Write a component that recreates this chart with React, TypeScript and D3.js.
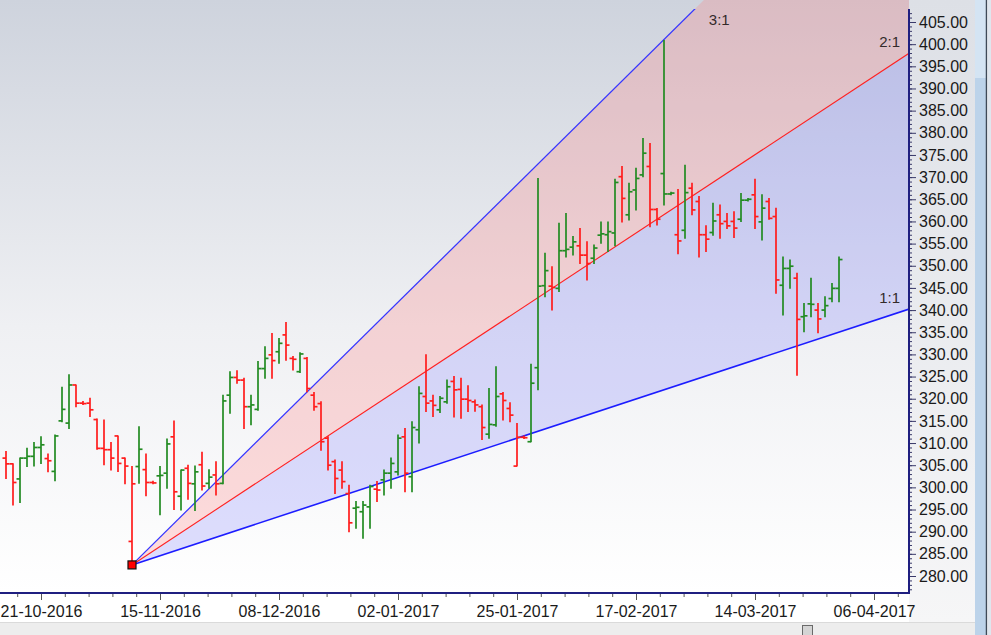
import React, { useEffect, useRef } from 'react';
import * as d3 from 'd3';

// OHLC, one bar per trading day
const barOpen = [
  306.6, 305.3, 301.9, 306.6, 307.0, 309.0, 306.5, 303.6, 315.0, 314.5,
  323.1, 319.0, 319.0, 315.3, 308.8, 308.5, 311.6, 306.6, 287.8, 304.7,
  304.0, 301.1, 302.6, 303.2, 311.4, 298.0, 304.3, 300.8, 305.1, 300.9,
  302.8, 300.9, 320.8, 324.8, 324.2, 318.2, 317.6, 326.8, 329.9, 330.6,
  334.4, 329.1, 326.1, 329.1, 320.8, 318.9, 311.1, 305.8, 303.9, 298.6,
  295.3, 294.5, 295.6, 299.6, 301.7, 303.2, 303.5, 311.4, 302.4, 313.0,
  320.5, 319.5, 317.5, 319.3, 323.9, 322.1, 319.9, 319.3, 318.2, 312.0,
  314.1, 321.1, 317.8, 304.8, 311.3, 310.3, 327.0, 345.5, 345.4, 344.9,
  353.4, 354.2, 354.5, 352.4, 351.7, 356.9, 357.0, 357.4, 370.1, 361.5,
  367.1, 370.5, 372.4, 362.7, 370.8, 366.2, 357.0, 358.0, 367.5, 364.5,
  357.0, 357.5, 361.5, 360.0, 360.0, 360.5, 364.8, 366.0, 359.9, 364.5,
  361.1, 345.6, 349.4, 347.2, 338.5, 341.4, 340.0, 340.0, 342.6, 344.9,
];
const barHigh = [
  308.1, 305.3, 306.6, 308.8, 310.1, 311.4, 307.5, 311.8, 322.6, 325.4,
  323.1, 319.4, 320.1, 315.4, 315.2, 310.1, 311.6, 306.6, 304.7, 313.7,
  307.5, 301.4, 304.7, 310.9, 315.0, 303.9, 305.0, 304.8, 307.9, 304.0,
  305.8, 320.8, 326.1, 326.3, 324.6, 320.8, 328.4, 331.7, 334.7, 333.6,
  337.2, 329.5, 330.4, 329.3, 321.4, 319.3, 311.4, 306.2, 305.8, 300.5,
  296.8, 296.8, 300.5, 301.3, 303.9, 306.6, 311.8, 313.3, 314.8, 322.7,
  329.9, 320.8, 320.5, 324.2, 325.0, 324.6, 322.9, 319.7, 318.6, 322.3,
  327.2, 321.4, 319.1, 314.4, 311.6, 327.8, 369.7, 352.8, 349.8, 359.6,
  361.8, 356.6, 358.4, 355.4, 354.7, 359.9, 359.9, 369.5, 372.4, 368.6,
  372.0, 378.7, 377.6, 362.9, 400.8, 366.6, 367.2, 372.7, 368.6, 365.6,
  359.0, 364.1, 363.7, 361.8, 362.2, 366.3, 365.2, 369.5, 366.0, 365.2,
  363.0, 352.0, 351.3, 348.3, 341.5, 347.2, 341.5, 343.0, 346.0, 352.0,
];
const barLow = [
  302.0, 296.0, 296.6, 304.7, 304.8, 305.4, 303.5, 301.5, 314.8, 313.3,
  318.2, 318.7, 316.0, 308.6, 305.1, 303.9, 303.6, 300.8, 282.5, 300.9,
  298.1, 300.8, 293.8, 299.8, 295.0, 294.9, 297.3, 294.8, 299.4, 299.8,
  298.3, 300.8, 316.7, 323.5, 313.3, 314.1, 317.4, 324.6, 324.6, 328.0,
  328.7, 326.5, 325.9, 321.6, 317.4, 308.4, 303.9, 298.6, 299.8, 290.0,
  290.8, 288.5, 290.8, 296.8, 298.3, 299.8, 302.8, 299.0, 299.0, 310.0,
  317.1, 316.0, 316.9, 319.0, 315.9, 315.6, 317.1, 317.2, 310.8, 311.1,
  313.8, 315.2, 314.8, 304.8, 311.0, 310.3, 322.0, 343.0, 340.0, 344.2,
  352.0, 352.4, 350.5, 346.8, 350.5, 355.1, 353.2, 354.5, 359.9, 360.3,
  362.6, 370.1, 358.8, 359.2, 363.7, 366.0, 352.7, 356.2, 361.5, 352.0,
  353.2, 356.9, 356.2, 358.4, 356.4, 360.0, 364.6, 358.4, 355.8, 360.5,
  343.8, 338.9, 344.9, 325.3, 335.1, 338.5, 334.9, 338.5, 341.9, 341.9,
];
const barClose = [
  305.3, 301.1, 306.6, 307.0, 309.0, 309.6, 306.0, 311.6, 317.6, 323.1,
  319.0, 318.9, 317.5, 308.8, 308.5, 306.6, 305.4, 304.8, 300.8, 308.6,
  301.1, 301.0, 302.7, 309.8, 299.0, 303.9, 300.9, 303.5, 300.3, 302.3,
  300.8, 319.5, 324.8, 324.2, 318.2, 318.6, 326.8, 329.1, 328.6, 332.5,
  332.1, 328.9, 330.1, 322.3, 318.2, 310.3, 305.0, 302.0, 301.3, 292.0,
  295.5, 296.0, 300.2, 299.4, 303.2, 305.4, 311.1, 303.2, 313.5, 321.2,
  319.0, 318.5, 320.1, 322.7, 322.0, 319.9, 319.6, 318.6, 313.5, 314.2,
  320.5, 319.6, 316.3, 311.3, 311.2, 323.5, 345.4, 348.9, 345.1, 353.4,
  353.7, 355.4, 352.4, 350.5, 354.0, 357.2, 357.7, 368.8, 365.2, 366.7,
  369.7, 375.4, 362.7, 360.5, 366.2, 366.4, 355.6, 366.5, 362.6, 357.0,
  356.0, 360.1, 359.5, 359.0, 358.5, 364.8, 365.0, 361.1, 363.0, 360.7,
  346.8, 349.4, 349.9, 337.9, 338.7, 341.3, 338.0, 341.0, 344.9, 351.4,
];

const dateLabels = ['21-10-2016', '15-11-2016', '08-12-2016', '02-01-2017', '25-01-2017', '17-02-2017', '14-03-2017', '06-04-2017'];
const dateLabelBars = [5, 22, 39, 56, 73, 90, 107, 124];
const priceTicks = [280, 285, 290, 295, 300, 305, 310, 315, 320, 325, 330, 335, 340, 345, 350, 355, 360, 365, 370, 375, 380, 385, 390, 395, 400, 405];

// Gann fan
const fanNames = ['3:1', '2:1', '1:1'];
const fanRatios = [3, 2, 1];
const pivotBar = 18;
const pivotPrice = 282.5;
const fanUnit = 0.52; // price per bar on the 1:1 line

const FONT = '"Liberation Sans", Arial, sans-serif';

const GannChart: React.FC = () => {
  const ref = useRef<SVGSVGElement | null>(null);

  useEffect(() => {
    if (!ref.current) return;
    const svg = d3.select(ref.current);
    svg.selectAll('*').remove();

    const width = 991;
    const height = 635;
    const plotRight = 909;
    const plotBottom = 593;
    const lastBar = 129;

    const x = d3.scaleLinear().domain([0, lastBar]).range([6, plotRight]);
    const y = d3.scaleLinear().domain([280, 405]).range([576, 22]);

    const defs = svg.append('defs');
    const bg = defs.append('linearGradient').attr('id', 'bg').attr('x1', 0).attr('y1', 0).attr('x2', 0).attr('y2', 1);
    bg.append('stop').attr('offset', '0%').attr('stop-color', '#ced3dd');
    bg.append('stop').attr('offset', '55%').attr('stop-color', '#eff0f3');
    bg.append('stop').attr('offset', '100%').attr('stop-color', '#ffffff');
    const side = defs.append('linearGradient').attr('id', 'side').attr('x1', 0).attr('y1', 0).attr('x2', 0).attr('y2', 1);
    side.append('stop').attr('offset', '0%').attr('stop-color', '#dde0e6');
    side.append('stop').attr('offset', '100%').attr('stop-color', '#f6f6f7');
    defs.append('clipPath').attr('id', 'clipFill')
      .append('rect').attr('x', 0).attr('y', 0).attr('width', plotRight).attr('height', plotBottom);
    defs.append('clipPath').attr('id', 'clipLine')
      .append('rect').attr('x', 0).attr('y', 9).attr('width', plotRight).attr('height', plotBottom - 9);

    // backgrounds
    svg.append('rect').attr('width', width).attr('height', height).attr('fill', '#ffffff');
    svg.append('rect').attr('x', plotRight).attr('y', 0).attr('width', 975 - plotRight).attr('height', 622).attr('fill', 'url(#side)');
    svg.append('rect').attr('x', 0).attr('y', 0).attr('width', plotRight).attr('height', plotBottom).attr('fill', 'url(#bg)');

    // fan fills
    const px = x(pivotBar);
    const py = y(pivotPrice);
    const endPt = (r: number): [number, number] => [x(lastBar), y(pivotPrice + r * fanUnit * (lastBar - pivotBar))];
    const fills = svg.append('g').attr('clip-path', 'url(#clipFill)');
    const p3 = endPt(3), p2 = endPt(2), p1 = endPt(1);
    fills.append('path').attr('d', d3.line()([[px, py], p3, p2]) + 'Z').attr('fill', 'rgba(255,120,120,0.25)');
    fills.append('path').attr('d', d3.line()([[px, py], p2, p1]) + 'Z').attr('fill', 'rgba(110,110,255,0.22)');

    // fan lines
    const lines = svg.append('g').attr('clip-path', 'url(#clipLine)');
    const lineColor = ['#3535ff', '#ff2020', '#1c1cff'];
    const lineWidth = [1.25, 1.1, 1.6];
    fanRatios.forEach((r, k) => {
      lines.append('line')
        .attr('x1', px).attr('y1', py)
        .attr('x2', endPt(r)[0]).attr('y2', endPt(r)[1])
        .attr('stroke', lineColor[k]).attr('stroke-width', lineWidth[k]);
    });

    // fan labels
    const topBar = pivotBar + (y.invert(9) - pivotPrice) / (3 * fanUnit);
    const labelPos: [number, number, string][] = [
      [x(topBar) + 14, 25, 'start'],
      [900, p2[1] - 6, 'end'],
      [900, p1[1] - 6, 'end'],
    ];
    fanNames.forEach((name, k) => {
      svg.append('text')
        .attr('x', labelPos[k][0]).attr('y', labelPos[k][1])
        .attr('text-anchor', labelPos[k][2])
        .attr('font-family', FONT).attr('font-size', 15).attr('fill', '#332a2a')
        .text(name);
    });

    // OHLC bars
    const bars = svg.append('g').attr('stroke-width', 1.7).attr('stroke-linecap', 'butt');
    barClose.forEach((c, i) => {
      const up = i === 0 ? c >= barOpen[i] : c >= barClose[i - 1];
      const col = up ? '#228b22' : '#ff1c1c';
      const bx = x(i);
      const g = bars.append('g').attr('stroke', col);
      g.append('line').attr('x1', bx).attr('x2', bx).attr('y1', y(barHigh[i]) - 0.5).attr('y2', y(barLow[i]) + 0.5);
      g.append('line').attr('x1', bx - 3.5).attr('x2', bx).attr('y1', y(barOpen[i])).attr('y2', y(barOpen[i]));
      g.append('line').attr('x1', bx).attr('x2', bx + 3.5).attr('y1', y(c)).attr('y2', y(c));
    });

    // pivot marker
    svg.append('rect')
      .attr('x', px - 4).attr('y', py - 4).attr('width', 8).attr('height', 8)
      .attr('fill', '#ff0000').attr('stroke', '#111').attr('stroke-width', 1.2);

    // y axis
    const yMinor = d3.range(277, 408);
    svg.append('g').attr('transform', `translate(${plotRight},0)`)
      .call(d3.axisRight(y).tickValues(yMinor).tickSize(3).tickFormat(() => ''))
      .call(g => g.select('.domain').remove())
      .call(g => g.selectAll('line').attr('stroke', '#3a3a6a'));
    svg.append('g').attr('transform', `translate(${plotRight},0)`)
      .call(d3.axisRight(y).tickValues(priceTicks).tickSize(7).tickPadding(3).tickFormat(d3.format('.2f')))
      .call(g => g.select('.domain').remove())
      .call(g => g.selectAll('line').attr('stroke', '#3a3a6a'))
      .call(g => g.selectAll('text').attr('font-family', FONT).attr('font-size', 16).attr('fill', '#1a1a1a'));

    // x axis
    const xMinor = d3.range(-1, 37).map(k => dateLabelBars[0] + k * 3.4).filter(v => v >= 0 && v <= lastBar);
    svg.append('g').attr('transform', `translate(0,${plotBottom})`)
      .call(d3.axisBottom(x).tickValues(xMinor).tickSize(4).tickFormat(() => ''))
      .call(g => g.select('.domain').remove())
      .call(g => g.selectAll('line').attr('stroke', '#555'));
    svg.append('g').attr('transform', `translate(0,${plotBottom})`)
      .call(d3.axisBottom(x).tickValues(dateLabelBars).tickSize(7).tickPadding(6).tickFormat((_d, i) => dateLabels[i]))
      .call(g => g.select('.domain').remove())
      .call(g => g.selectAll('line').attr('stroke', '#555'))
      .call(g => g.selectAll('text').attr('font-family', FONT).attr('font-size', 16).attr('fill', '#1a1a1a'));

    // frame
    svg.append('line').attr('x1', plotRight).attr('x2', plotRight).attr('y1', 9).attr('y2', plotBottom + 1)
      .attr('stroke', '#1f1f80').attr('stroke-width', 2);
    svg.append('line').attr('x1', 0).attr('x2', plotRight + 1).attr('y1', plotBottom).attr('y2', plotBottom)
      .attr('stroke', '#1f1f80').attr('stroke-width', 2);

    // window chrome: scrollbars
    svg.append('rect').attr('x', 0).attr('y', 622).attr('width', 975).attr('height', 13).attr('fill', '#ededed');
    svg.append('line').attr('x1', 0).attr('x2', 975).attr('y1', 622.5).attr('y2', 622.5).attr('stroke', '#dadada');
    svg.append('rect').attr('x', 802.5).attr('y', 625.5).attr('width', 10).attr('height', 10)
      .attr('fill', '#d4d4d4').attr('stroke', '#6a6a6a');
    svg.append('rect').attr('x', 975).attr('y', 0).attr('width', 11).attr('height', height).attr('fill', '#bcd3ea');
    svg.append('rect').attr('x', 975).attr('y', 0).attr('width', 11).attr('height', 78).attr('fill', '#d4e4f3');
    svg.append('line').attr('x1', 986.5).attr('x2', 986.5).attr('y1', 0).attr('y2', height).attr('stroke', '#3e4a58').attr('stroke-width', 1.5);
    svg.append('rect').attr('x', 987.5).attr('y', 0).attr('width', 4).attr('height', height).attr('fill', '#dfe6ee');
  }, []);

  return <svg ref={ref} width={991} height={635} style={{ position: 'fixed', left: 0, top: 0, display: 'block' }} />;
};

export default function App() {
  return <GannChart />;
}
